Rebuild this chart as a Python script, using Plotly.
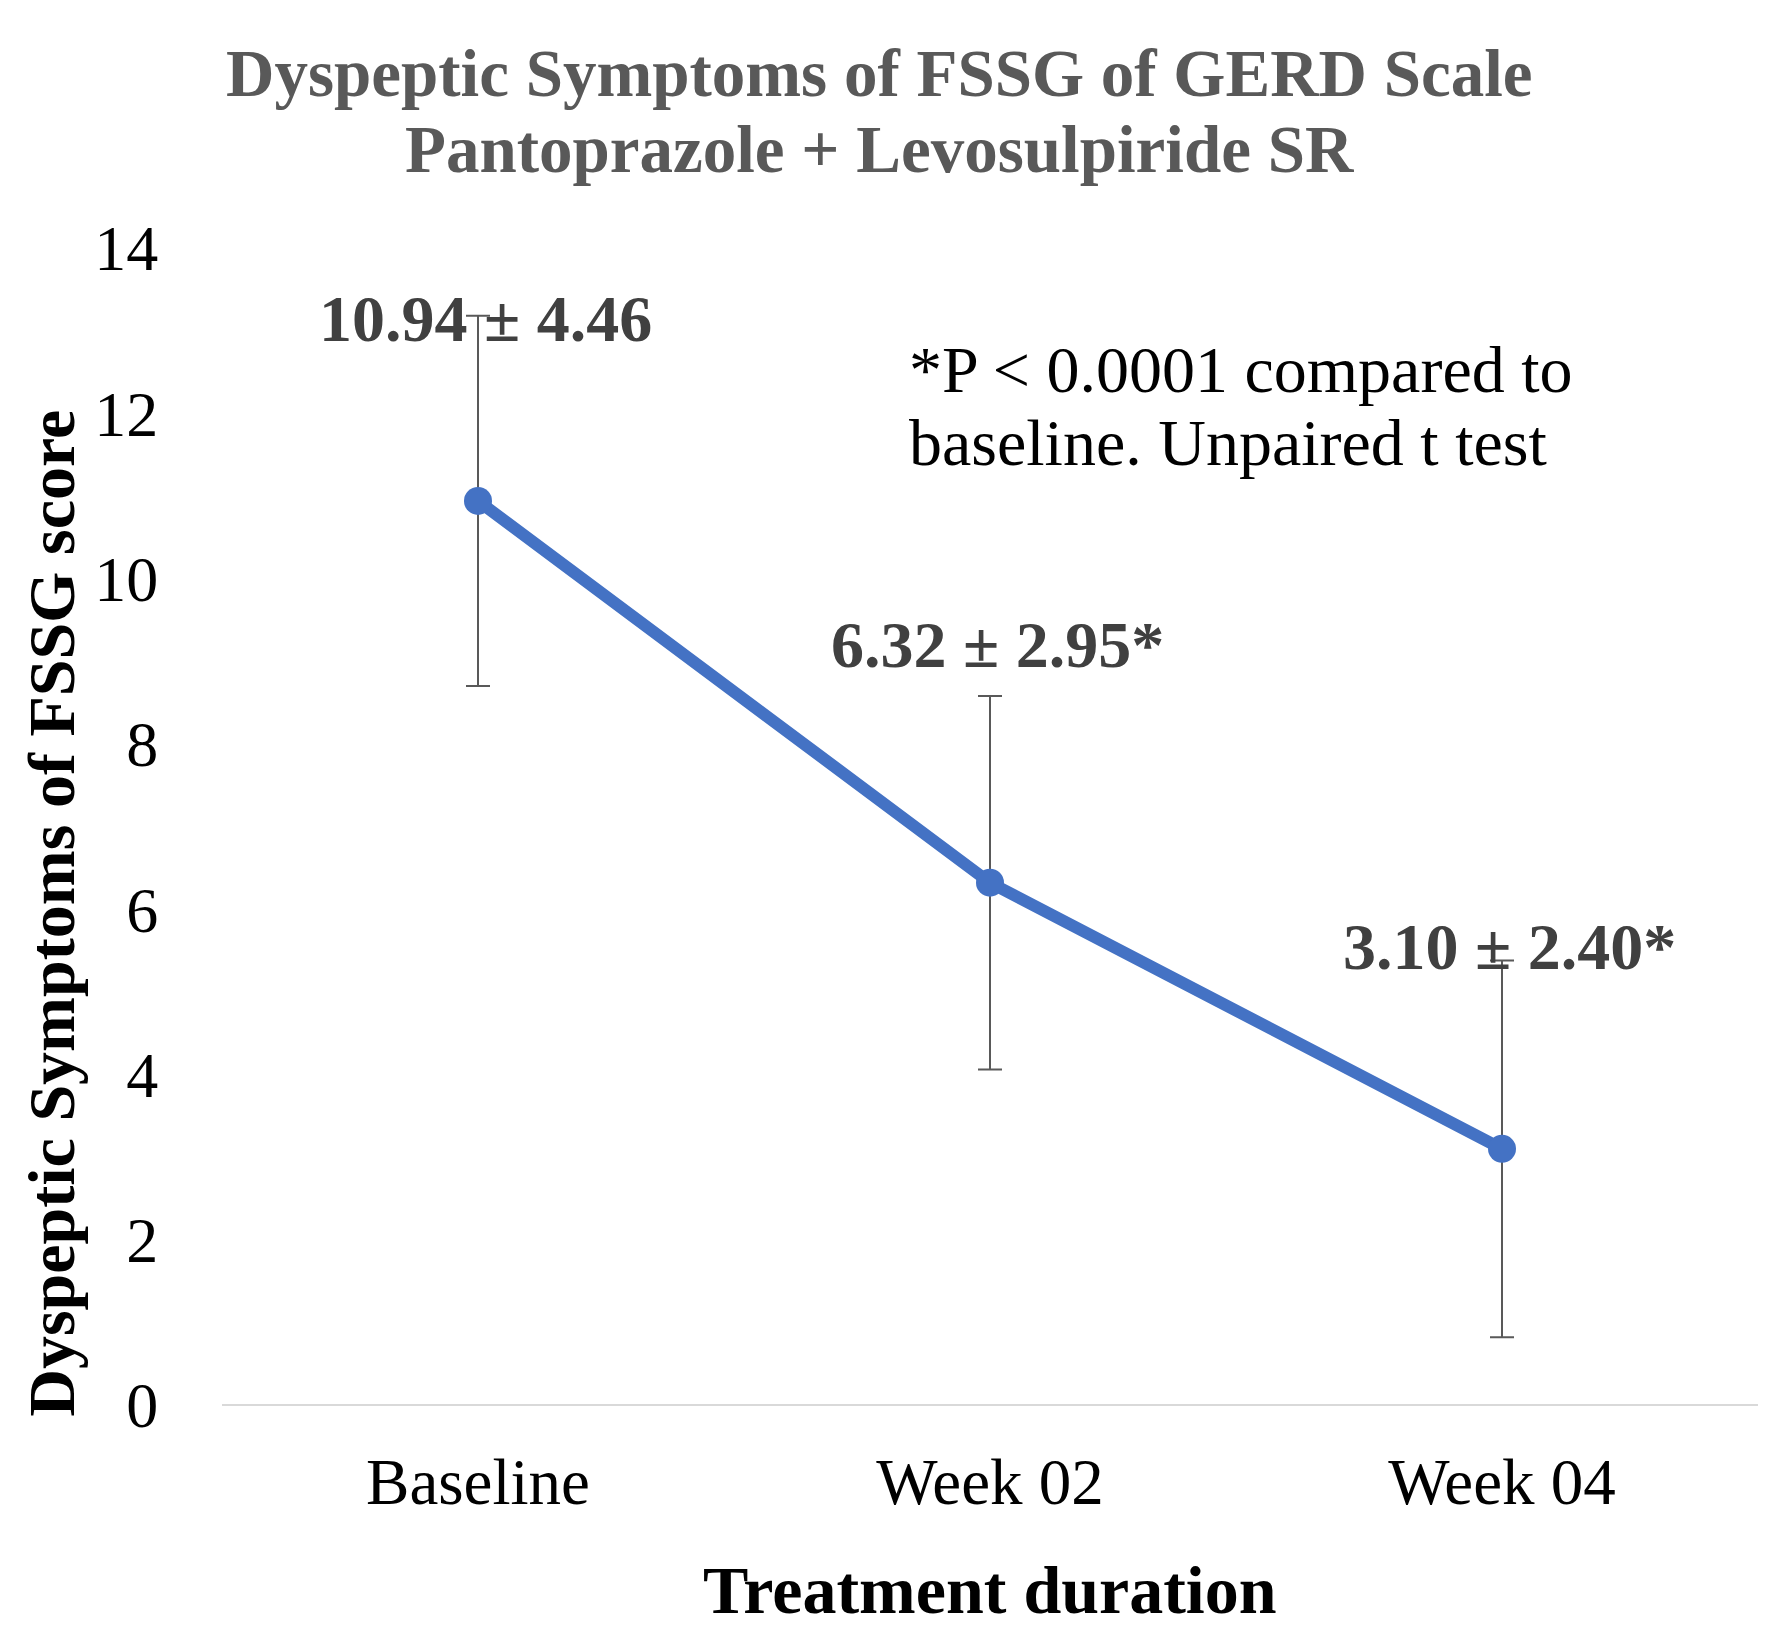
import plotly.graph_objects as go

# data
timepoints = ["Baseline", "Week 02", "Week 04"]
mean_score = [10.94, 6.32, 3.10]
error_bar = [2.24, 2.26, 2.28]
point_labels = ["10.94 ± 4.46", "6.32 ± 2.95*", "3.10 ± 2.40*"]
label_y = [13.15, 9.2, 5.55]
y_ticks = [0, 2, 4, 6, 8, 10, 12, 14]
title_lines = ["Dyspeptic Symptoms of FSSG of GERD Scale", "Pantoprazole + Levosulpiride SR"]
note_lines = ["*P < 0.0001 compared to", "baseline. Unpaired t test"]

serif = "Liberation Serif"

fig = go.Figure()
fig.add_trace(go.Scatter(
    x=timepoints, y=mean_score, mode="lines+markers",
    line=dict(color="#4472C4", width=12),
    marker=dict(color="#4472C4", size=28),
    error_y=dict(type="data", array=error_bar, visible=True,
                 color="#595959", thickness=2, width=12),
    showlegend=False,
))

# data labels
for cat, txt, yy in zip(timepoints, point_labels, label_y):
    fig.add_annotation(x=cat, y=yy, text="<b>" + txt + "</b>", showarrow=False,
                       font=dict(family=serif, size=66, color="#404040"),
                       xanchor="center", yanchor="middle", xshift=7)

# title, two lines set apart like the original
for txt, yy in zip(title_lines, [1.151, 1.0856]):
    fig.add_annotation(xref="paper", yref="paper", x=0.428, y=yy,
                       text="<b>" + txt + "</b>", showarrow=False,
                       font=dict(family=serif, size=67, color="#595959"),
                       xanchor="center", yanchor="middle")

# p-value note
for txt, yy in zip(note_lines, [0.8946, 0.8315]):
    fig.add_annotation(xref="paper", yref="paper", x=0.446, y=yy,
                       text=txt, showarrow=False, xanchor="left", yanchor="middle",
                       font=dict(family=serif, size=66, color="#000000"))

# axis titles
fig.add_annotation(xref="paper", yref="paper", x=0.5, y=-0.16,
                   text="<b>Treatment duration</b>", showarrow=False,
                   font=dict(family=serif, size=68, color="#000000"),
                   xanchor="center", yanchor="middle")
fig.add_annotation(xref="paper", yref="paper", x=-0.111, y=0.425,
                   text="<b>Dyspeptic Symptoms of FSSG score</b>", showarrow=False,
                   textangle=-90,
                   font=dict(family=serif, size=66, color="#000000"),
                   xanchor="center", yanchor="middle")

fig.update_layout(
    width=1772, height=1628,
    paper_bgcolor="white", plot_bgcolor="white",
    margin=dict(l=214, r=22, t=240, b=231),
)
fig.update_xaxes(range=[-0.5, 2.5], showgrid=False, showline=False, zeroline=False,
                 ticks="outside", ticklen=20, tickcolor="white",
                 tickfont=dict(family=serif, size=65, color="#000000"))
fig.update_yaxes(range=[0, 14], tickvals=y_ticks, showgrid=False, showline=False,
                 zeroline=True, zerolinecolor="#D9D9D9", zerolinewidth=2,
                 ticks="outside", ticklen=50, tickcolor="white",
                 tickfont=dict(family=serif, size=64, color="#000000"))

fig.write_html("out.html")
